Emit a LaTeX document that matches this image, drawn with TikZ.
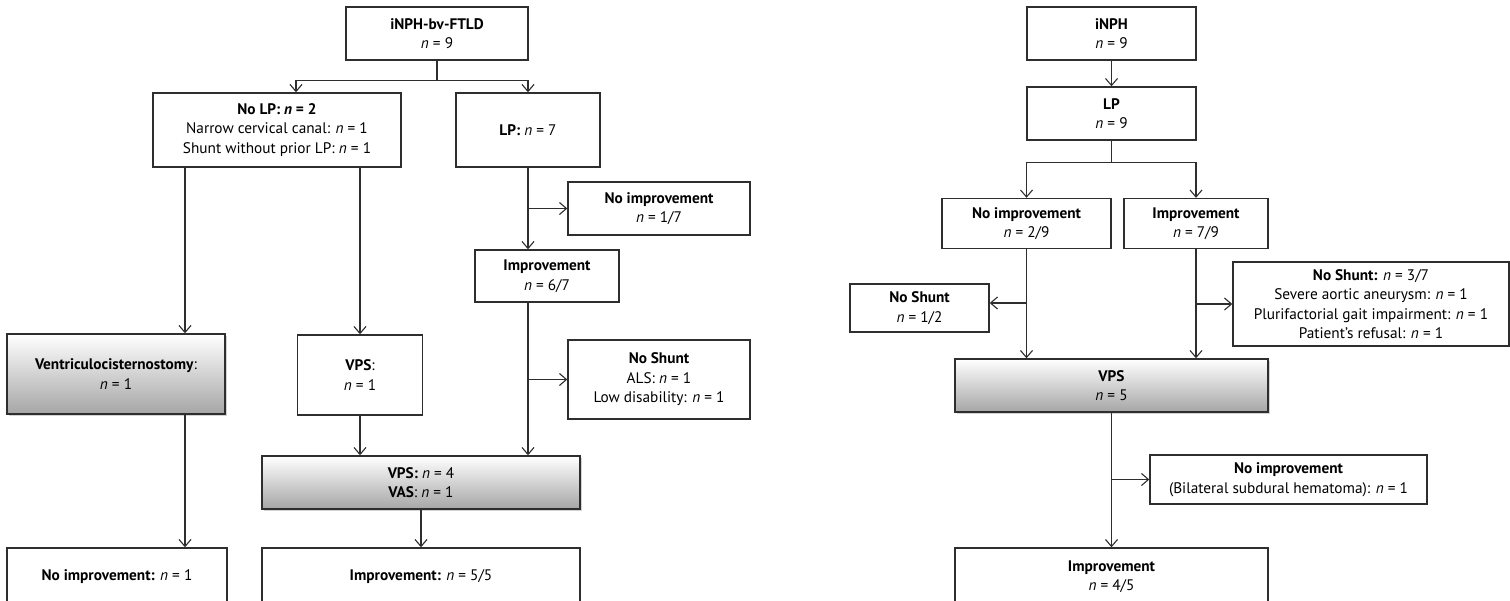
\documentclass[tikz,border=0pt]{standalone}
\usepackage{fontspec}
\setmainfont{PT Sans}
\usetikzlibrary{arrows.meta,calc,shadows}
\begin{document}
\begin{tikzpicture}[x=1pt,y=-1pt,
  box/.style={draw=black!82, line width=1.4pt, fill=white, align=center, inner sep=0pt,
    font=\fontsize{15.3}{19.5}\selectfont},
  graybox/.style={box, top color=white, bottom color=black!35,
    drop shadow={shadow xshift=1.5pt, shadow yshift=-1.5pt, opacity=0.35}},
  arr/.style={draw=black!82, line width=1.1pt, -{Straight Barb[length=7pt,width=12pt,line width=1.1pt]}},
  ln/.style={draw=black!82, line width=1.1pt}]
\useasboundingbox (0,0) rectangle (1510,600);
\clip (0,0) rectangle (1510,600);

% ---------------- left diagram ----------------
\node[box, minimum width=182pt, minimum height=53pt] (A) at (437,33.5) {\textbf{iNPH-bv-FTLD}\\\textit{n} = 9};
\node[box, minimum width=248pt, minimum height=74pt] (NoLP) at (277,130) {\textbf{No LP: \textit{n} = 2}\\Narrow cervical canal: \textit{n} = 1\\Shunt without prior LP: \textit{n} = 1};
\node[box, minimum width=144pt, minimum height=74pt] (LP) at (528,130) {\textbf{LP:} \textit{n} = 7};
\node[box, minimum width=182pt, minimum height=53pt] (NoImpA) at (659,208.5) {\textbf{No improvement}\\\textit{n} = 1/7};
\node[box, minimum width=144pt, minimum height=52pt] (ImpA) at (547,276) {\textbf{Improvement}\\\textit{n} = 6/7};
\node[graybox, minimum width=218pt, minimum height=80pt] (Vent) at (116,374) {\textbf{Ventriculocisternostomy}:\\\textit{n} = 1};
\node[box, minimum width=125pt, minimum height=80pt] (VPSA) at (360,375) {\textbf{VPS}:\\\textit{n} = 1};
\node[box, minimum width=182pt, minimum height=79pt] (NoShA) at (659,379.5) {\textbf{No Shunt}\\ALS: \textit{n} = 1\\Low disability: \textit{n} = 1};
\node[graybox, minimum width=318pt, minimum height=53pt] (VPSB) at (421,482.5) {\textbf{VPS:} \textit{n} = 4\\\textbf{VAS}: \textit{n} = 1};
\node[box, minimum width=220pt, minimum height=58pt] (NoImpL) at (117,577) {\textbf{No improvement:} \textit{n} = 1};
\node[box, minimum width=318pt, minimum height=58pt] (ImpL) at (421,577) {\textbf{Improvement:} \textit{n} = 5/5};

\coordinate (bA) at ($(A.south)+(0,20)$);
\draw[ln] (A.south) -- (bA);
\draw[arr] (bA) -| ([xshift=19pt]NoLP.north);
\draw[arr] (bA) -| (LP.north);
\draw[arr] (LP.south) -- (LP.south |- ImpA.north);
\draw[arr] (LP.south |- NoImpA.west) -- (NoImpA.west);
\draw[arr] ([xshift=-92pt]NoLP.south) -- ([xshift=-92pt]NoLP.south |- Vent.north);
\draw[arr] ([xshift=83pt]NoLP.south) -- (VPSA.north);
\draw[arr] (LP.south |- ImpA.south) -- (LP.south |- VPSB.north);
\draw[arr] (LP.south |- NoShA.west) -- (NoShA.west);
\draw[arr] (VPSA.south) -- (VPSA.south |- VPSB.north);
\draw[arr] ([xshift=69pt]Vent.south) -- ([xshift=69pt]Vent.south |- NoImpL.north);
\draw[arr] (VPSB.south) -- (ImpL.north);

% ---------------- right diagram ----------------
\node[box, minimum width=169pt, minimum height=53pt] (R1) at (1111.5,33.5) {\textbf{iNPH}\\\textit{n} = 9};
\node[box, minimum width=169pt, minimum height=53pt] (R2) at (1111.5,113.5) {\textbf{LP}\\\textit{n} = 9};
\node[box, minimum width=169pt, minimum height=50pt] (RNo) at (1026.5,223.5) {\textbf{No improvement}\\\textit{n} = 2/9};
\node[box, minimum width=144pt, minimum height=50pt] (RYes) at (1196,223.5) {\textbf{Improvement}\\\textit{n} = 7/9};
\node[box, minimum width=139pt, minimum height=48pt] (RNs1) at (919.5,308) {\textbf{No Shunt}\\\textit{n} = 1/2};
\node[box, minimum width=276pt, minimum height=84pt] (RNs2) at (1371,304) {\textbf{No Shunt:} \textit{n} = 3/7\\Severe aortic aneurysm: \textit{n} = 1\\Plurifactorial gait impairment: \textit{n} = 1\\Patient’s refusal: \textit{n} = 1};
\node[graybox, minimum width=313pt, minimum height=53pt] (RVPS) at (1111.5,385.5) {\textbf{VPS}\\\textit{n} = 5};
\node[box, minimum width=277pt, minimum height=49pt] (RNoI) at (1288.5,479.5) {\textbf{No improvement}\\(Bilateral subdural hematoma): \textit{n} = 1};
\node[box, minimum width=313pt, minimum height=57pt] (RImp) at (1111.5,576.5) {\textbf{Improvement}\\\textit{n} = 4/5};

\draw[arr] (R1.south) -- (R2.north);
\coordinate (bR) at ($(R2.south)+(0,22)$);
\draw[ln] (R2.south) -- (bR);
\draw[arr] (bR) -| (RNo.north);
\draw[arr] (bR) -| (RYes.north);
\draw[arr] (RNo.south) -- (RNo.south |- RVPS.north);
\draw[arr] (RYes.south) -- (RYes.south |- RVPS.north);
\draw[arr] ([yshift=5pt]RNo.south |- RNs1.east) -- ([yshift=5pt]RNs1.east);
\draw[arr] (RYes.south |- RNs2.west) -- (RNs2.west);
\draw[arr] (RVPS.south) -- (RImp.north);
\draw[arr] (RVPS.south |- RNoI.west) -- (RNoI.west);
\end{tikzpicture}
\end{document}
